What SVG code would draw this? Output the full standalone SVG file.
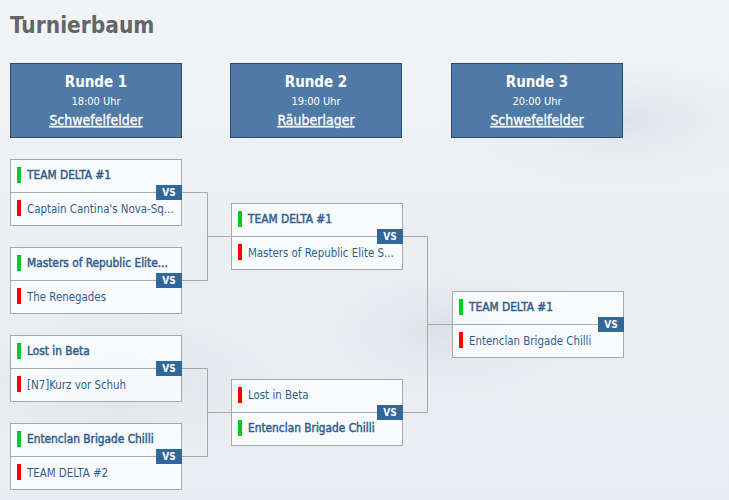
<svg xmlns="http://www.w3.org/2000/svg" width="729" height="500" viewBox="0 0 729 500">
<defs>
<linearGradient id="bg" x1="0" y1="0" x2="0" y2="1">
<stop offset="0" stop-color="#f3f4f6"/>
<stop offset="0.5" stop-color="#eceef2"/>
<stop offset="1" stop-color="#e9ecf0"/>
</linearGradient>
<radialGradient id="cloud" cx="0.5" cy="0.5" r="0.5">
<stop offset="0" stop-color="#d9dde3" stop-opacity="0.8"/>
<stop offset="1" stop-color="#e9ecf0" stop-opacity="0"/>
</radialGradient>
</defs>
<style>
.title{font-family:"DejaVu Sans Condensed","DejaVu Sans",sans-serif;font-weight:bold;font-size:22.5px;fill:#666}
.hbox{fill:#4f7aa6;stroke:#2c4a70;stroke-width:1}
.h1{font-family:"DejaVu Sans Condensed","DejaVu Sans",sans-serif;font-weight:bold;font-size:15px;fill:#fff;text-anchor:middle}
.h2{font-family:"DejaVu Sans Condensed","DejaVu Sans",sans-serif;font-size:11px;fill:#fff;text-anchor:middle}
.h3{font-family:"DejaVu Sans Condensed","DejaVu Sans",sans-serif;font-size:14px;fill:#fff;stroke:#fff;stroke-width:0.3;text-anchor:middle;text-decoration:underline}
.mbox{fill:#fafbfc;fill-opacity:0.92;stroke:#a8a8a8;stroke-width:1}
.div{stroke:#a8a8a8;stroke-width:1}
.win{fill:#00cc22}
.lose{fill:#ff0000}
.tw{font-family:"DejaVu Sans Condensed","DejaVu Sans",sans-serif;font-size:11.8px;fill:#2f5f8f;stroke:#2f5f8f;stroke-width:0.45}
.tl{font-family:"DejaVu Sans Condensed","DejaVu Sans",sans-serif;font-size:11.4px;fill:#2f5f8f}
.vs{fill:#336699}
.vst{font-family:"DejaVu Sans Condensed","DejaVu Sans",sans-serif;font-weight:bold;font-size:10px;fill:#fff;text-anchor:middle}
.conn{fill:none;stroke:#a8a8a8;stroke-width:1}
</style>
<rect width="729" height="500" fill="url(#bg)"/>
<ellipse cx="120" cy="380" rx="200" ry="90" fill="url(#cloud)"/>
<ellipse cx="450" cy="330" rx="160" ry="80" fill="url(#cloud)"/>
<ellipse cx="620" cy="120" rx="180" ry="70" fill="url(#cloud)"/>
<text class="title" x="10" y="33">Turnierbaum</text>

<g id="header-r1">
<rect class="hbox" x="10.5" y="63.5" width="171" height="74"/>
<text class="h1" x="96" y="87">Runde 1</text>
<text class="h2" x="96" y="105">18:00 Uhr</text>
<text class="h3" x="96" y="125">Schwefelfelder</text>
</g>
<g id="header-r2">
<rect class="hbox" x="230.5" y="63.5" width="171" height="74"/>
<text class="h1" x="316" y="87">Runde 2</text>
<text class="h2" x="316" y="105">19:00 Uhr</text>
<text class="h3" x="316" y="125">Räuberlager</text>
</g>
<g id="header-r3">
<rect class="hbox" x="451.5" y="63.5" width="171" height="74"/>
<text class="h1" x="537" y="87">Runde 3</text>
<text class="h2" x="537" y="105">20:00 Uhr</text>
<text class="h3" x="537" y="125">Schwefelfelder</text>
</g>

<g id="connectors">
<path class="conn" d="M181.5 192.5 H207.5 V280.5 H181.5 M207.5 236.5 H231"/>
<path class="conn" d="M181.5 368.5 H207.5 V456.5 H181.5 M207.5 412.5 H231"/>
<path class="conn" d="M402.5 236.5 H427.5 V412.5 H402.5 M427.5 324.5 H452"/>
</g>

<g id="m1">
<rect class="mbox" x="10.5" y="159.5" width="171" height="66"/>
<line class="div" x1="10.5" y1="192.5" x2="181.5" y2="192.5"/>
<rect class="win" x="17" y="167" width="4" height="16"/>
<text class="tw" x="27" y="179">TEAM DELTA #1</text>
<rect class="lose" x="17" y="200" width="4" height="16"/>
<text class="tl" x="27" y="213">Captain Cantina's Nova-Sq...</text>
<rect class="vs" x="156" y="185" width="26" height="15"/>
<text class="vst" x="169" y="196">VS</text>
</g>
<g id="m2">
<rect class="mbox" x="10.5" y="247.5" width="171" height="66"/>
<line class="div" x1="10.5" y1="280.5" x2="181.5" y2="280.5"/>
<rect class="win" x="17" y="255" width="4" height="16"/>
<text class="tw" x="27" y="267">Masters of Republic Elite...</text>
<rect class="lose" x="17" y="288" width="4" height="16"/>
<text class="tl" x="27" y="301">The Renegades</text>
<rect class="vs" x="156" y="273" width="26" height="15"/>
<text class="vst" x="169" y="284">VS</text>
</g>
<g id="m3">
<rect class="mbox" x="10.5" y="335.5" width="171" height="66"/>
<line class="div" x1="10.5" y1="368.5" x2="181.5" y2="368.5"/>
<rect class="win" x="17" y="343" width="4" height="16"/>
<text class="tw" x="27" y="355">Lost in Beta</text>
<rect class="lose" x="17" y="376" width="4" height="16"/>
<text class="tl" x="27" y="389">[N7]Kurz vor Schuh</text>
<rect class="vs" x="156" y="361" width="26" height="15"/>
<text class="vst" x="169" y="372">VS</text>
</g>
<g id="m4">
<rect class="mbox" x="10.5" y="423.5" width="171" height="66"/>
<line class="div" x1="10.5" y1="456.5" x2="181.5" y2="456.5"/>
<rect class="win" x="17" y="431" width="4" height="16"/>
<text class="tw" x="27" y="443">Entenclan Brigade Chilli</text>
<rect class="lose" x="17" y="464" width="4" height="16"/>
<text class="tl" x="27" y="477">TEAM DELTA #2</text>
<rect class="vs" x="156" y="449" width="26" height="15"/>
<text class="vst" x="169" y="460">VS</text>
</g>
<g id="m5">
<rect class="mbox" x="231.5" y="203.5" width="171" height="66"/>
<line class="div" x1="231.5" y1="236.5" x2="402.5" y2="236.5"/>
<rect class="win" x="238" y="211" width="4" height="16"/>
<text class="tw" x="248" y="223">TEAM DELTA #1</text>
<rect class="lose" x="238" y="244" width="4" height="16"/>
<text class="tl" x="248" y="257">Masters of Republic Elite S...</text>
<rect class="vs" x="377" y="229" width="26" height="15"/>
<text class="vst" x="390" y="240">VS</text>
</g>
<g id="m6">
<rect class="mbox" x="231.5" y="379.5" width="171" height="66"/>
<line class="div" x1="231.5" y1="412.5" x2="402.5" y2="412.5"/>
<rect class="lose" x="238" y="387" width="4" height="16"/>
<text class="tl" x="248" y="399">Lost in Beta</text>
<rect class="win" x="238" y="420" width="4" height="16"/>
<text class="tw" x="248" y="432">Entenclan Brigade Chilli</text>
<rect class="vs" x="377" y="405" width="26" height="15"/>
<text class="vst" x="390" y="416">VS</text>
</g>
<g id="m7">
<rect class="mbox" x="452.5" y="291.5" width="171" height="66"/>
<line class="div" x1="452.5" y1="324.5" x2="623.5" y2="324.5"/>
<rect class="win" x="459" y="299" width="4" height="16"/>
<text class="tw" x="469" y="311">TEAM DELTA #1</text>
<rect class="lose" x="459" y="332" width="4" height="16"/>
<text class="tl" x="469" y="345">Entenclan Brigade Chilli</text>
<rect class="vs" x="598" y="317" width="26" height="15"/>
<text class="vst" x="611" y="328">VS</text>
</g>
</svg>
